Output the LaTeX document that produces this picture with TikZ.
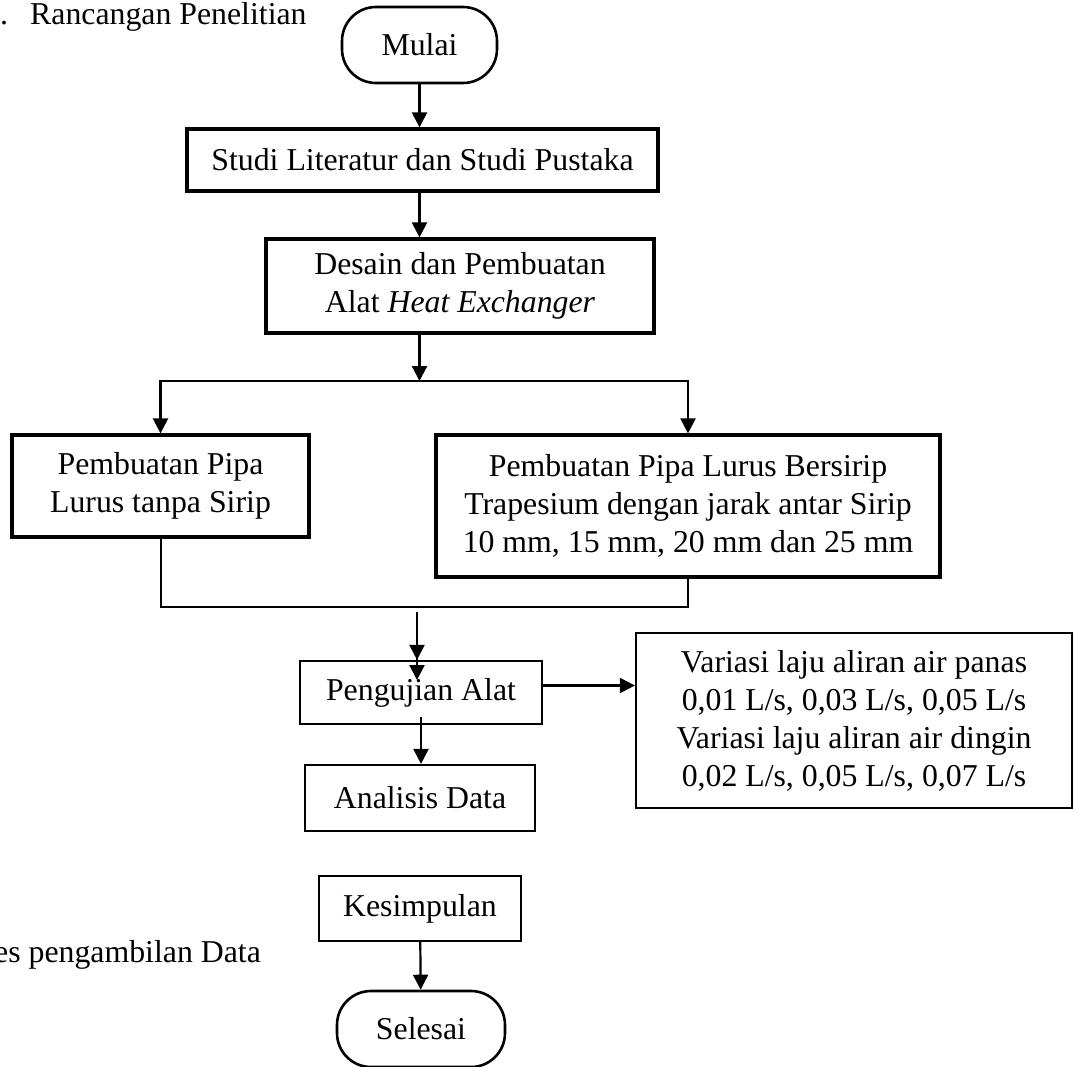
\documentclass[tikz,border=0pt]{standalone}
\usepackage{fontspec}
\setmainfont{Liberation Serif}
\usetikzlibrary{arrows.meta}

\begin{document}
\begin{tikzpicture}[x=1pt,y=-1pt,
 every node/.style={font=\fontsize{31.8}{38}\selectfont,align=center,inner sep=0pt},
 box/.style={draw,line width=2.2pt},
 thickbox/.style={draw,line width=3.2pt},
 terminal/.style={draw,line width=2.6pt,rounded corners=34pt},
 arr/.style={line width=2.2pt,-{Triangle[width=15pt,length=15pt]}},
 link/.style={line width=2pt}]
 \useasboundingbox (0,0) rectangle (1074,1066);

 \node[anchor=base west] (judul) at (0,24) {\makebox[30pt][l]{.}Rancangan Penelitian};
 \node[anchor=base west] (proses) at (-6,962) {es pengambilan Data};

 \node[terminal,minimum width=155pt,minimum height=76pt] (mulai) at (419.5,45) {Mulai};
 \node[thickbox,minimum width=471pt,minimum height=62pt] (studi) at (422.5,160)
   {Studi Literatur dan Studi Pustaka};
 \node[thickbox,minimum width=388pt,minimum height=94pt] (desain) at (460,286)
   {Desain dan Pembuatan\\Alat \textit{Heat Exchanger}};
 \node[thickbox,minimum width=297pt,minimum height=102pt] (tanpa) at (160.5,486)
   {Pembuatan Pipa\\Lurus tanpa Sirip};
 \node[thickbox,minimum width=504pt,minimum height=142pt] (sirip) at (688,506)
   {Pembuatan Pipa Lurus Bersirip\\Trapesium dengan jarak antar Sirip\\10 mm, 15 mm, 20 mm dan 25 mm};
 \node[box,minimum width=242pt,minimum height=63pt] (uji) at (421,692.5) {Pengujian Alat};
 \node[box,minimum width=436pt,minimum height=175pt] (variasi) at (854,720.5)
   {Variasi laju aliran air panas\\0,01 L/s, 0,03 L/s, 0,05 L/s\\Variasi laju aliran air dingin\\0,02 L/s, 0,05 L/s, 0,07 L/s};
 \node[box,minimum width=230pt,minimum height=66pt] (analisis) at (420,798) {Analisis Data};
 \node[box,minimum width=202pt,minimum height=65pt] (simpul) at (420,908.5) {Kesimpulan};
 \node[terminal,minimum width=168pt,minimum height=76pt] (selesai) at (421,1029) {Selesai};

 \coordinate (cabang) at (419.5,381);
 \coordinate (gabung) at (417,607);
 \coordinate (masuk) at (417,680);

 \draw[arr] (mulai) -- (studi.north -| mulai);
 \draw[arr] (studi.south -| mulai) -- (desain.north -| mulai);
 \draw[arr] (desain.south -| mulai) -- (cabang);
 \draw[arr] (cabang) -| (tanpa);
 \draw[arr] (cabang) -| (sirip);
 \draw[link] (tanpa.south) |- (gabung) -| (sirip.south);
 \draw[arr] ([yshift=-5pt]gabung) -- (uji.north -| gabung);
 \draw[arr] ([yshift=-5pt]gabung) -- (masuk);
 \draw[arr] ([yshift=7pt]uji.east) coordinate (kanan) -- (kanan -| variasi.west);
 \draw[arr] ([yshift=8pt]uji.south) -- (analisis.north -| uji.south);
 \draw[arr] (simpul) -- (selesai);
\end{tikzpicture}
\end{document}
